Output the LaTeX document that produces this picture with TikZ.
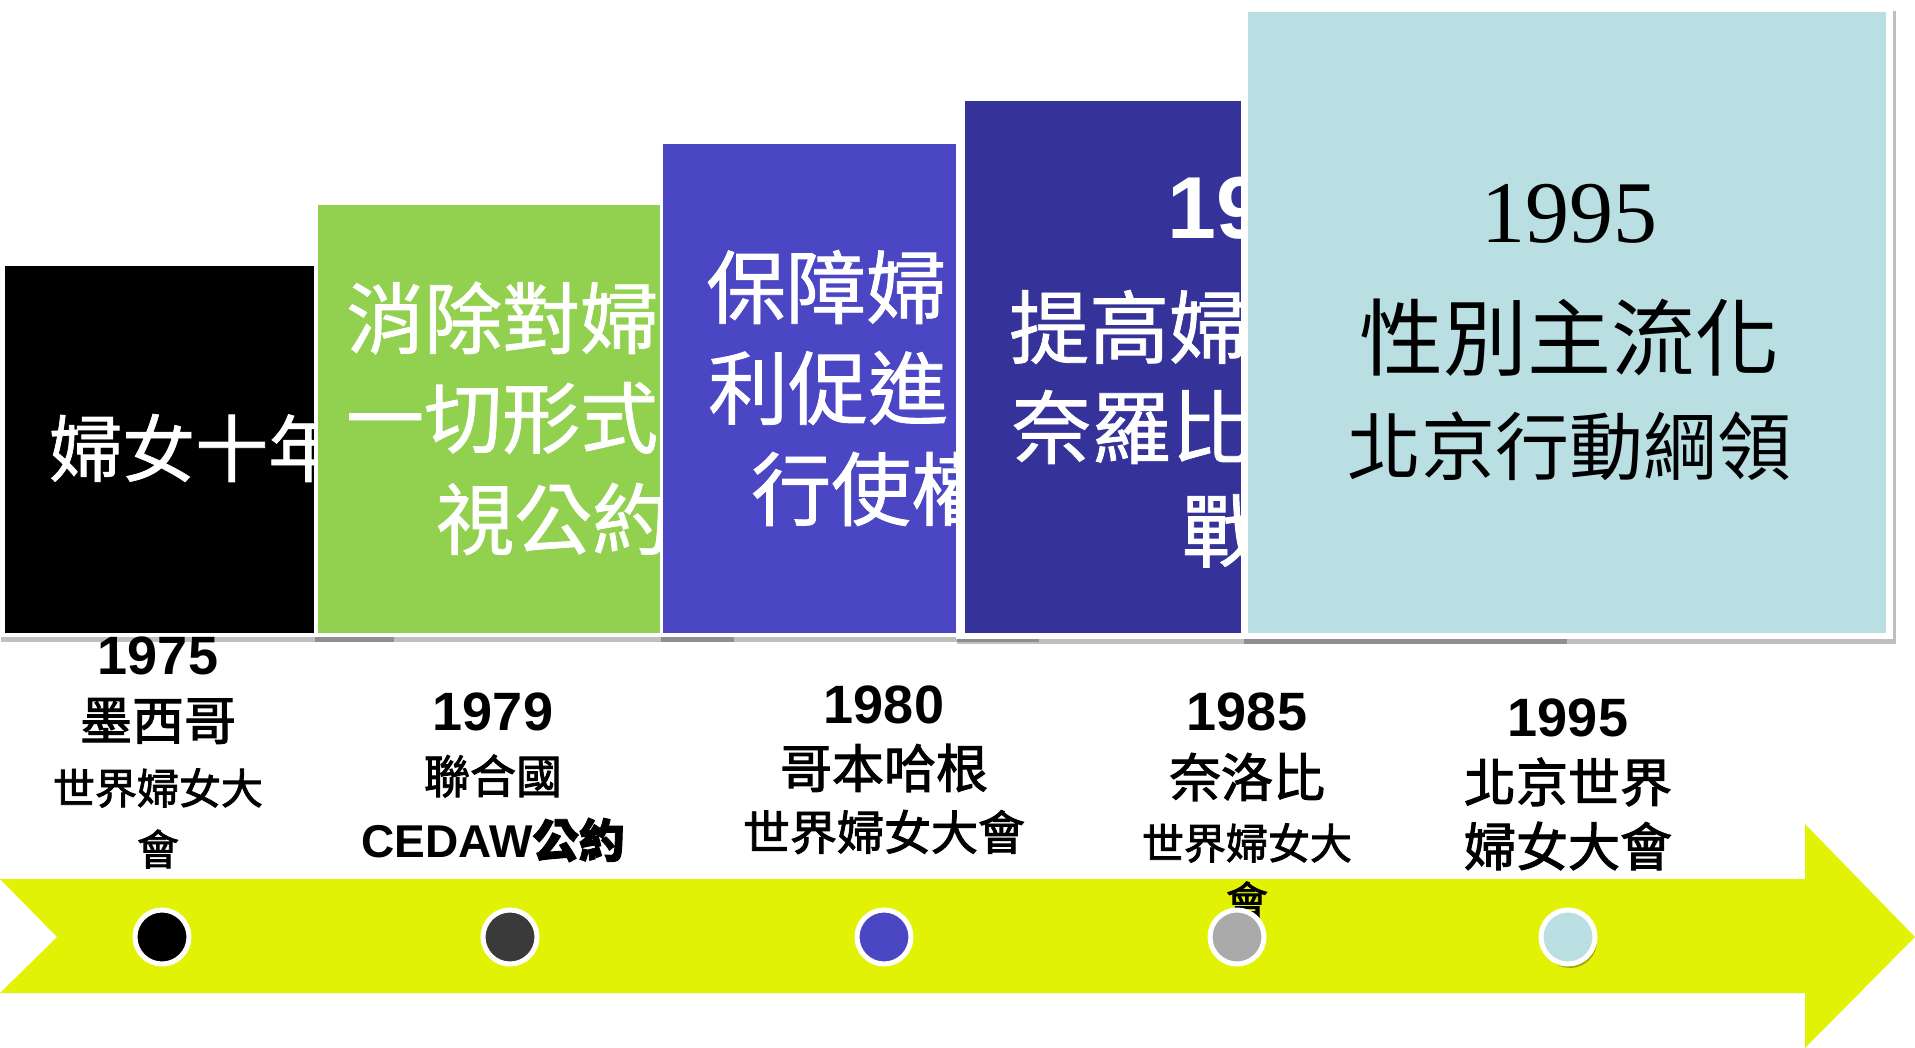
\documentclass[tikz,border=0pt]{standalone}
\usepackage{fontspec}
\setmainfont{Liberation Sans}
\newfontfamily\cjk{Noto Sans CJK TC}
\newfontfamily\cjkm{Noto Sans CJK TC}[FakeBold=1]
\newfontfamily\cjkb{Noto Sans CJK TC}[FakeBold=2]
\newfontfamily\serifnum{Liberation Serif}
\usetikzlibrary{shadows}
\definecolor{yel}{HTML}{E2F205}
\definecolor{grn}{HTML}{92D050}
\definecolor{pur}{HTML}{4B47C4}
\definecolor{nav}{HTML}{353399}
\definecolor{lbl}{HTML}{B9DFE3}
\definecolor{dgr}{HTML}{3A3A3A}
\definecolor{mgr}{HTML}{AAAAAA}
\newcommand{\fs}[1]{\fontsize{#1}{#1}\selectfont}
\begin{document}
\begin{tikzpicture}[x=1pt,y=-1pt,
  frame/.style={fill=white, drop shadow={shadow xshift=1pt, shadow yshift=-5pt, opacity=0.25, fill=black}},
  wtxt/.style={anchor=west, inner sep=0pt, text=white},
  lab/.style={inner sep=0pt, anchor=center, text=black},
  dot/.style={circle, draw=white, line width=5pt, minimum size=54pt, inner sep=0pt}]
\useasboundingbox (0,0) rectangle (1915,1048);
% box 1 black
\fill[frame] (0,261) rectangle (393,637);
\fill[black] (5,266) rectangle (388,633);
\node[wtxt, font=\cjkm\fs{73}] (t1) at (49,448) {婦女十年};
% box 2 green
\fill[frame] (314,202) rectangle (733,637);
\fill[grn] (318,205) rectangle (729,633);
\node[wtxt, font=\cjkm\fs{78}] (t2a) at (346,318) {消除對婦};
\node[wtxt, font=\cjkm\fs{78}] (t2b) at (346,418) {一切形式};
\node[wtxt, font=\cjkm\fs{78}] (t2c) at (436,519) {視公約};
% box 3 purple
\fill[frame] (660,141) rectangle (1038,637);
\fill[pur] (663,144) rectangle (1034,633);
\node[wtxt, font=\cjkm\fs{80}] (t3a) at (706,287) {保障婦};
\node[wtxt, font=\cjkm\fs{80}] (t3b) at (708,388) {利促進};
\node[wtxt, font=\cjkm\fs{80}] (t3c) at (751,489) {行使權};
% box 4 navy
\fill[frame] (956,95) rectangle (1566,639);
\fill[nav] (965,101) rectangle (1561,633);
\node[wtxt, font=\bfseries\fs{88}] (t4a) at (1167,208) {19};
\node[wtxt, font=\cjkm\fs{80}] (t4b) at (1009,327) {提高婦};
\node[wtxt, font=\cjkm\fs{80}] (t4c) at (1011,427) {奈羅比};
\node[wtxt, font=\cjkm\fs{80}] (t4d) at (1182,531) {戰};
% box 5 light blue
\fill[fill=white, drop shadow={shadow xshift=3pt, shadow yshift=-5pt, opacity=0.25, fill=black}] (1241,6) rectangle (1893,639);
\fill[lbl] (1248,12) rectangle (1886,633);
\node[lab, font=\serifnum\fs{88}] (t5a) at (1569,214) {1995};
\node[lab, font=\cjk\fs{84}] (t5b) at (1569,338) {性別主流化};
\node[lab, font=\cjk\fs{74}] (t5c) at (1569,446) {北京行動綱領};
% arrow band
\fill[yel] (0,879) -- (1805,879) -- (1805,824) -- (1915,937) -- (1805,1048) -- (1805,993) -- (0,993) -- (57,937) -- cycle;
% labels
\node[lab, font=\bfseries\fs{54}] (y1) at (158,656) {1975};
\node[lab, font=\cjkb\fs{52}] (y1a) at (158,721) {墨西哥};
\node[lab, font=\cjkb\fs{42}] (y1b) at (158,788) {世界婦女大};
\node[lab, font=\cjkb\fs{42}] (y1c) at (158,849) {會};
\node[lab, font=\bfseries\fs{54}] (y2) at (493,712) {1979};
\node[lab, font=\cjkb\fs{46}] (y2a) at (493,776) {聯合國};
\node[lab, font=\fs{46}] (y2b) at (493,840) {\bfseries CEDAW{\cjkb 公約}};
\node[lab, font=\bfseries\fs{54}] (y3) at (884,705) {1980};
\node[lab, font=\cjkb\fs{52}] (y3a) at (884,768) {哥本哈根};
\node[lab, font=\cjkb\fs{47}] (y3b) at (884,832) {世界婦女大會};
\node[lab, font=\bfseries\fs{54}] (y4) at (1247,712) {1985};
\node[lab, font=\cjkb\fs{52}] (y4a) at (1247,777) {奈洛比};
\node[lab, font=\cjkb\fs{42}] (y4b) at (1247,843) {世界婦女大};
\node[lab, font=\cjkb\fs{42}] (y4c) at (1247,901) {會};
\node[lab, font=\bfseries\fs{54}] (y5) at (1568,718) {1995};
\node[lab, font=\cjkb\fs{52}] (y5a) at (1568,782) {北京世界};
\node[lab, font=\cjkb\fs{52}] (y5b) at (1568,846) {婦女大會};
% dots
\node[dot, fill=black] (c1) at (162,937) {};
\node[dot, fill=dgr] (c2) at (510,937) {};
\node[dot, fill=pur] (c3) at (884,937) {};
\node[dot, fill=mgr] (c4) at (1237,937) {};
\node[dot, fill=lbl, drop shadow={shadow xshift=2pt, shadow yshift=-4pt, opacity=0.3, fill=black}] (c5) at (1568,937) {};
\end{tikzpicture}
\end{document}
